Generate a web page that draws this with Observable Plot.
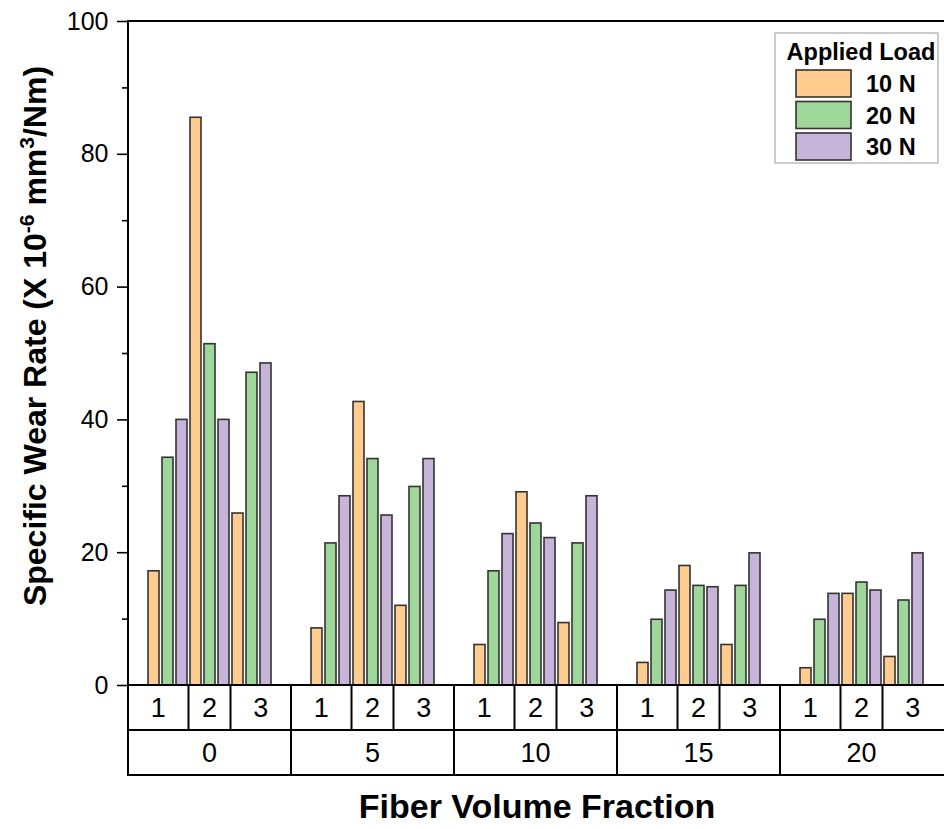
<!DOCTYPE html>
<html><head><meta charset="utf-8">
<script src="https://cdn.jsdelivr.net/npm/d3@7"></script>
<script src="https://cdn.jsdelivr.net/npm/@observablehq/plot@0.6"></script>
<style>
html,body{margin:0;padding:0;background:#fff;overflow:hidden}
#chart svg{display:block}
</style>
</head><body><div id="chart"></div>
<script>
// ---- data ----
const fractions = ["0", "5", "10", "15", "20"];          // Fiber volume fraction groups
const specimens = ["1", "2", "3"];                        // sub-categories in each group
const loads = ["10 N", "20 N", "30 N"];                   // applied load series
// values in order: fraction 0 (1,2,3), 5 (1,2,3), 10 ..., 15 ..., 20 ...
const load10 = [17.2, 85.5, 25.9, 8.6, 42.7, 12.0, 6.1, 29.1, 9.4, 3.4, 18.0, 6.1, 2.6, 13.8, 4.3];
const load20 = [34.3, 51.4, 47.1, 21.4, 34.1, 29.9, 17.2, 24.4, 21.4, 9.9, 15.0, 15.0, 9.9, 15.5, 12.8];
const load30 = [40.0, 40.0, 48.5, 28.5, 25.6, 34.1, 22.8, 22.2, 28.5, 14.3, 14.8, 19.9, 13.8, 14.3, 19.9];
const yTicks = [0, 20, 40, 60, 80, 100];
const yMinorTicks = [10, 30, 50, 70, 90];
const colors = ["#FFCC90", "#9FD79B", "#C6B4D9"];
const yTitle = "Specific Wear Rate";
const xTitle = "Fiber Volume Fraction";
const legendTitle = "Applied Load";

// ---- table for Plot ----
const series = [load10, load20, load30];
const keys = specimens.flatMap(s => loads.map(l => s + "|" + l));
const data = [];
fractions.forEach((f, i) => specimens.forEach((s, j) => loads.forEach((l, k) => {
  data.push({fraction: f, specimen: s, load: l, key: s + "|" + l, value: series[k][i * 3 + j]});
})));

const FONT = "'Liberation Sans', Arial, sans-serif";

const plot = Plot.plot({
  width: 944, height: 829,
  marginLeft: 126, marginRight: 0, marginTop: 21, marginBottom: 144,
  style: {fontFamily: FONT, fontSize: "25px", background: "#fff", color: "#000", overflow: "visible"},
  fx: {domain: fractions, paddingInner: 0, paddingOuter: 0, axis: null, label: null},
  x: {domain: keys, paddingInner: 0.18, paddingOuter: 1.2, axis: null},
  y: {domain: [0, 100], axis: null},
  color: {domain: loads, range: colors},
  marks: [
    Plot.barY(data, {fx: "fraction", x: "key", y: "value", fill: "load", stroke: "#333", strokeWidth: 1.6}),
    Plot.axisY({ticks: yTicks, tickSize: 11, tickPadding: 9, strokeWidth: 1.6, label: null, fontSize: 25}),
    Plot.axisY({ticks: yMinorTicks, tickSize: 6, strokeWidth: 1.6, tickFormat: () => "", label: null})
  ]
});

const svg = d3.select(plot);
const fx = plot.scale("fx"), x = plot.scale("x"), y = plot.scale("y");
const fxBand = fx.bandwidth;
const xr0 = x.range[0];
const rel = k => x.apply(k) - xr0;
const y0 = y.apply(0), yTop = y.apply(100);
const rowH = 45;
const left = fx.apply(fractions[0]);
const right = fx.apply(fractions[fractions.length - 1]) + fxBand + 2;

const g = svg.append("g").attr("stroke", "#000").attr("stroke-width", 2).attr("fill", "none");
const line = (x1, y1, x2, y2) => g.append("line").attr("x1", x1).attr("y1", y1).attr("x2", x2).attr("y2", y2);
// frame: top and left
line(left - 1, yTop, right, yTop);
line(left, yTop, left, y0 + 2 * rowH + 1);
// table rows
[0, 1, 2].forEach(r => line(left, y0 + r * rowH, right, y0 + r * rowH));

const labels = svg.append("g").style("font-family", FONT).style("font-size", "27px")
  .attr("text-anchor", "middle").attr("fill", "#000");
fractions.forEach((f, i) => {
  const fs = fx.apply(f);
  if (i > 0) line(fs, y0, fs, y0 + 2 * rowH);
  const centers = specimens.map(s => fs + rel(s + "|" + loads[1]) + x.bandwidth / 2);
  const bounds = [fs, (centers[0] + centers[1]) / 2, (centers[1] + centers[2]) / 2, fs + fxBand];
  line(bounds[1], y0, bounds[1], y0 + rowH);
  line(bounds[2], y0, bounds[2], y0 + rowH);
  specimens.forEach((s, j) => {
    labels.append("text").attr("x", (bounds[j] + bounds[j + 1]) / 2).attr("y", y0 + rowH / 2).attr("dy", "0.36em").text(s);
  });
  labels.append("text").attr("x", fs + fxBand / 2).attr("y", y0 + 1.5 * rowH).attr("dy", "0.36em").text(f);
});

// axis titles
svg.append("text").style("font-family", FONT).style("font-weight", "bold").style("font-size", "34px")
  .attr("text-anchor", "middle").attr("x", 537).attr("y", 818).attr("fill", "#000").text(xTitle);

const yt = svg.append("text").style("font-family", FONT).style("font-weight", "bold").style("font-size", "32px")
  .attr("text-anchor", "middle").attr("transform", "translate(46,336) rotate(-90)").attr("fill", "#000");
yt.append("tspan").text(yTitle + " (X 10");
yt.append("tspan").style("font-size", "21px").attr("dy", -12).text("-6");
yt.append("tspan").attr("dy", 12).text(" mm");
yt.append("tspan").style("font-size", "21px").attr("dy", -12).text("3");
yt.append("tspan").attr("dy", 12).text("/Nm)");

// legend
const lg = svg.append("g").style("font-family", FONT).style("font-weight", "bold").attr("fill", "#000");
lg.append("rect").attr("x", 775).attr("y", 33).attr("width", 163).attr("height", 130)
  .attr("fill", "#fff").attr("stroke", "#999").attr("stroke-width", 1);
lg.append("text").attr("x", 861).attr("y", 60).attr("text-anchor", "middle").style("font-size", "23.5px").text(legendTitle);
const color = plot.scale("color");
loads.forEach((l, i) => {
  const yy = 70 + i * 31.5;
  lg.append("rect").attr("x", 796).attr("y", yy).attr("width", 55).attr("height", 27)
    .attr("fill", color.apply(l)).attr("stroke", "#333").attr("stroke-width", 1.6);
  lg.append("text").attr("x", 866).attr("y", yy + 22).attr("text-anchor", "start").style("font-size", "23.5px").text(l);
});

document.getElementById("chart").appendChild(plot);
</script>
</body></html>
